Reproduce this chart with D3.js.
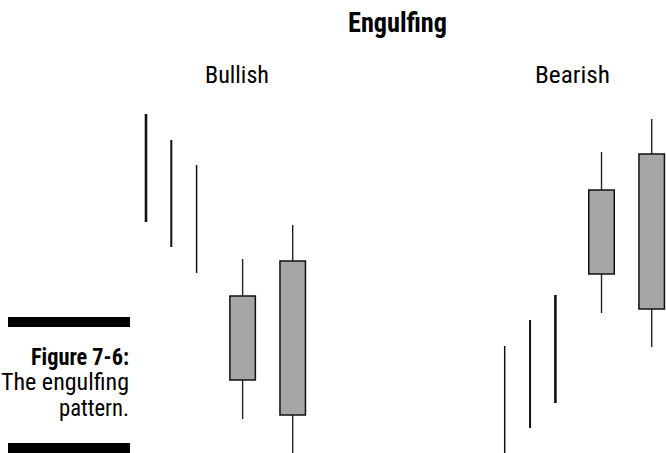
<!DOCTYPE html>
<html><head><meta charset="utf-8">
<script src="https://cdn.jsdelivr.net/npm/d3@7/dist/d3.min.js"></script>
<style>
html,body{margin:0;padding:0;background:#fff;}
svg{display:block;}
text{font-family:"Liberation Sans Narrow","Arial Narrow","Roboto Condensed","Liberation Sans",sans-serif;}
</style></head>
<body><svg id="c" width="666" height="453"></svg>
<script>
// ---- data ----
const title = "Engulfing";
const panels = ["Bullish", "Bearish"];
const captionLines = ["Figure 7-6:", "The engulfing", "pattern."];
// trend lines: slot, high, low, weight
const bullTrendSlots = [0, 1, 2];
const bullTrendHigh = [339, 313, 288];
const bullTrendLow  = [231, 206, 180];
const bullTrendWeight = [2.6, 2.0, 1.5];
const bearTrendSlots = [0, 1, 2];
const bearTrendHigh = [107, 133, 158];
const bearTrendLow  = [-5, 25, 50];
const bearTrendWeight = [1.5, 2.0, 2.6];
// candles: slot, high, low, body top, body bottom
const bullCandleSlots = [3.82, 5.8];
const bullCandleHigh = [194, 228];
const bullCandleLow  = [34, -5];
const bullBodyTop    = [157, 192];
const bullBodyBottom = [73, 38];
const bearCandleSlots = [3.82, 5.8];
const bearCandleHigh = [301, 334];
const bearCandleLow  = [140, 106];
const bearBodyTop    = [263, 299];
const bearBodyBottom = [179, 144];

const svg = d3.select("#c");
const y = d3.scaleLinear().domain([0, 340]).range([453, 113]);
const slotDomain = [0, 5.8];
const xBull = d3.scaleLinear().domain(slotDomain).range([146, 292.7]);
const xBear = d3.scaleLinear().domain(slotDomain).range([504.7, 651.7]);
const bodyW = 25.5;

function drawPanel(x, tS, tH, tL, tW, cS, cH, cL, bT, bB) {
  const g = svg.append("g");
  tS.forEach((s, i) => {
    g.append("line").attr("x1", x(s)).attr("x2", x(s))
      .attr("y1", y(tH[i])).attr("y2", y(tL[i]))
      .attr("stroke", "#111").attr("stroke-width", tW[i]);
  });
  cS.forEach((s, i) => {
    g.append("line").attr("x1", x(s)).attr("x2", x(s))
      .attr("y1", y(cH[i])).attr("y2", y(cL[i]))
      .attr("stroke", "#222").attr("stroke-width", 1.4);
    g.append("rect").attr("x", x(s) - bodyW / 2).attr("width", bodyW)
      .attr("y", y(bT[i])).attr("height", y(bB[i]) - y(bT[i]))
      .attr("fill", "#a6a6a6").attr("stroke", "#111").attr("stroke-width", 1.5);
  });
}
drawPanel(xBull, bullTrendSlots, bullTrendHigh, bullTrendLow, bullTrendWeight,
  bullCandleSlots, bullCandleHigh, bullCandleLow, bullBodyTop, bullBodyBottom);
drawPanel(xBear, bearTrendSlots, bearTrendHigh, bearTrendLow, bearTrendWeight,
  bearCandleSlots, bearCandleHigh, bearCandleLow, bearBodyTop, bearBodyBottom);

// title
svg.append("text").attr("x", 397.5).attr("y", 32).attr("text-anchor", "middle")
  .attr("font-size", 27).attr("font-weight", "bold")
  .attr("textLength", 99).attr("lengthAdjust", "spacingAndGlyphs").text(title);
// panel labels
const panelX = [237, 572.5], panelW = [64, 75];
svg.selectAll("text.panel").data(panels).enter().append("text")
  .attr("class", "panel")
  .attr("x", (d, i) => panelX[i]).attr("y", 83)
  .attr("text-anchor", "middle").attr("font-size", 23.5)
  .attr("textLength", (d, i) => panelW[i]).attr("lengthAdjust", "spacingAndGlyphs")
  .text(d => d);

// caption
svg.append("rect").attr("x", 8).attr("y", 317).attr("width", 122).attr("height", 10).attr("fill", "#000");
svg.append("rect").attr("x", 8).attr("y", 443).attr("width", 122).attr("height", 10).attr("fill", "#000");
const capW = [98, 128, 70];
svg.selectAll("text.cap").data(captionLines).enter().append("text")
  .attr("class", "cap")
  .attr("x", (d, i) => 129 - capW[i]).attr("y", (d, i) => 364.5 + i * 25.5)
  .attr("font-size", 23)
  .attr("font-weight", (d, i) => i === 0 ? "bold" : "normal")
  .attr("textLength", (d, i) => capW[i]).attr("lengthAdjust", "spacingAndGlyphs")
  .text(d => d);
</script></body></html>
